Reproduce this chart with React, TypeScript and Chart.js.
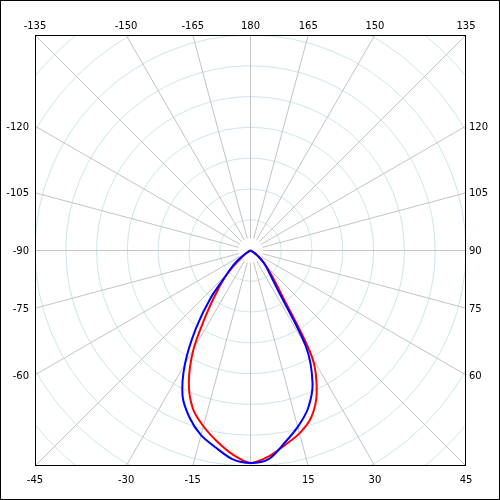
import { useEffect, useRef } from "react";
import { Chart, registerables } from "chart.js";

Chart.register(...registerables);

// Polar angles (degrees, 0 = straight down, positive = to the right)
const ANGLES = [
  -90, -85, -80, -75, -70, -65, -60, -55, -50, -45, -40, -35, -30, -25, -20, -15, -10, -5,
  0, 5, 10, 15, 20, 25, 30, 35, 40, 45, 50, 55, 60, 65, 70, 75, 80, 85, 90,
];
// Intensity values (cd)
const SERIES_BLUE = [
  0, 0, 0, 0, 1, 4, 12, 35, 70, 107, 202, 309, 426, 522, 578, 621, 650, 680,
  690, 680, 635, 593, 546, 477, 360, 150, 95, 69, 45, 25, 10, 4, 1, 0, 0, 0, 0,
];
const SERIES_RED = [
  0, 0, 0, 0, 1, 4, 10, 25, 55, 107, 162, 245, 370, 474, 547, 591, 629, 665,
  690, 672, 642, 615, 577, 509, 400, 180, 110, 72, 45, 25, 10, 4, 1, 0, 0, 0, 0,
];
const RING_VALUES = [100, 200, 300, 400, 500, 600, 700, 800, 900, 1000];
const SPOKE_ANGLES = [
  0, 15, 30, 45, 60, 75, 90, 105, 120, 135, 150, 165, 180,
  -15, -30, -45, -60, -75, -90, -105, -120, -135, -150, -165,
];
const TICK_LABELS = [
  180, 165, 150, 135, 120, 105, 90, 75, 60, 45, 30, 15,
  -15, -30, -45, -60, -75, -90, -105, -120, -135, -150, -165,
];
const R_MAX = 700;

function toXY(angles: number[], values: number[]) {
  return angles.map((a, i) => {
    const t = (a * Math.PI) / 180;
    return { x: values[i] * Math.sin(t), y: -values[i] * Math.cos(t) };
  });
}

const polarPlugin = {
  id: "polarGrid",
  beforeDraw(chart: any) {
    const { ctx, width, height } = chart;
    ctx.save();
    ctx.fillStyle = "#ffffff";
    ctx.fillRect(0, 0, width, height);
    ctx.restore();
  },
  beforeDatasetsDraw(chart: any) {
    const { ctx, chartArea: a, scales } = chart;
    const sx = scales.x;
    const sy = scales.y;
    const cx = sx.getPixelForValue(0);
    const cy = sy.getPixelForValue(0);
    ctx.save();
    ctx.beginPath();
    ctx.rect(a.left, a.top, a.right - a.left, a.bottom - a.top);
    ctx.clip();
    ctx.lineWidth = 1;
    ctx.strokeStyle = "rgb(204,230,238)";
    for (const v of RING_VALUES) {
      const r = sx.getPixelForValue(v) - cx;
      ctx.beginPath();
      ctx.arc(cx, cy, r, 0, Math.PI * 2);
      ctx.stroke();
    }
    ctx.strokeStyle = "rgb(196,196,196)";
    for (const ang of SPOKE_ANGLES) {
      const t = (ang * Math.PI) / 180;
      const x0 = sx.getPixelForValue(40 * Math.sin(t));
      const y0 = sy.getPixelForValue(-40 * Math.cos(t));
      const x1 = sx.getPixelForValue(2000 * Math.sin(t));
      const y1 = sy.getPixelForValue(-2000 * Math.cos(t));
      ctx.beginPath();
      ctx.moveTo(x0, y0);
      ctx.lineTo(x1, y1);
      ctx.stroke();
    }
    ctx.restore();
  },
  afterDraw(chart: any) {
    const { ctx, chartArea: a, scales, width, height } = chart;
    const sx = scales.x;
    const sy = scales.y;
    const cx = sx.getPixelForValue(0);
    const cy = sy.getPixelForValue(0);
    const h = (a.right - a.left) / 2;
    ctx.save();
    ctx.strokeStyle = "#000000";
    ctx.lineWidth = 1;
    ctx.strokeRect(Math.round(a.left) + 0.5, Math.round(a.top) + 0.5, 430, 430);
    ctx.strokeRect(0.5, 0.5, width - 1, height - 1);
    ctx.fillStyle = "#000000";
    ctx.font = "10px 'DejaVu Sans'";
    for (const ang of TICK_LABELS) {
      const t = (ang * Math.PI) / 180;
      const s = Math.sin(t);
      const c = Math.cos(t);
      const m = Math.max(Math.abs(s), Math.abs(c));
      const px = cx + (h * s) / m;
      const py = cy + (h * c) / m;
      const txt = String(ang);
      if (Math.abs(c) >= Math.abs(s) - 1e-9) {
        ctx.textAlign = "center";
        ctx.textBaseline = "alphabetic";
        if (c < 0) ctx.fillText(txt, px, a.top - 6);
        else ctx.fillText(txt, px, a.bottom + 17);
      } else {
        ctx.textBaseline = "middle";
        if (s < 0) {
          ctx.textAlign = "right";
          ctx.fillText(txt, a.left - 6, py + 1);
        } else {
          ctx.textAlign = "left";
          ctx.fillText(txt, a.right + 3, py + 1);
        }
      }
    }
    ctx.restore();
  },
};

export default function App() {
  const ref = useRef<HTMLCanvasElement | null>(null);
  useEffect(() => {
    document.body.style.margin = "0";
    if (!ref.current) return;
    const chart = new Chart(ref.current, {
      type: "scatter",
      data: {
        datasets: [
          {
            label: "C90",
            data: toXY(ANGLES, SERIES_BLUE),
            showLine: true,
            borderColor: "#0000ff",
            borderWidth: 2,
            pointRadius: 0,
            tension: 0.3,
          },
          {
            label: "C0",
            data: toXY(ANGLES, SERIES_RED),
            showLine: true,
            borderColor: "#ff0000",
            borderWidth: 2,
            pointRadius: 0,
            tension: 0.3,
          },
        ],
      },
      options: {
        animation: false,
        responsive: false,
        devicePixelRatio: 1,
        layout: { padding: { left: 35, right: 34, top: 35, bottom: 34 } },
        scales: {
          x: { type: "linear", min: -R_MAX, max: R_MAX, display: false },
          y: { type: "linear", min: -R_MAX, max: R_MAX, display: false },
        },
        plugins: {
          legend: { display: false },
          tooltip: { enabled: false },
        },
      },
      plugins: [polarPlugin],
    });
    return () => chart.destroy();
  }, []);
  return (
    <div style={{ width: 500, height: 500 }}>
      <canvas ref={ref} width={500} height={500} style={{ width: 500, height: 500, display: "block" }} />
    </div>
  );
}
